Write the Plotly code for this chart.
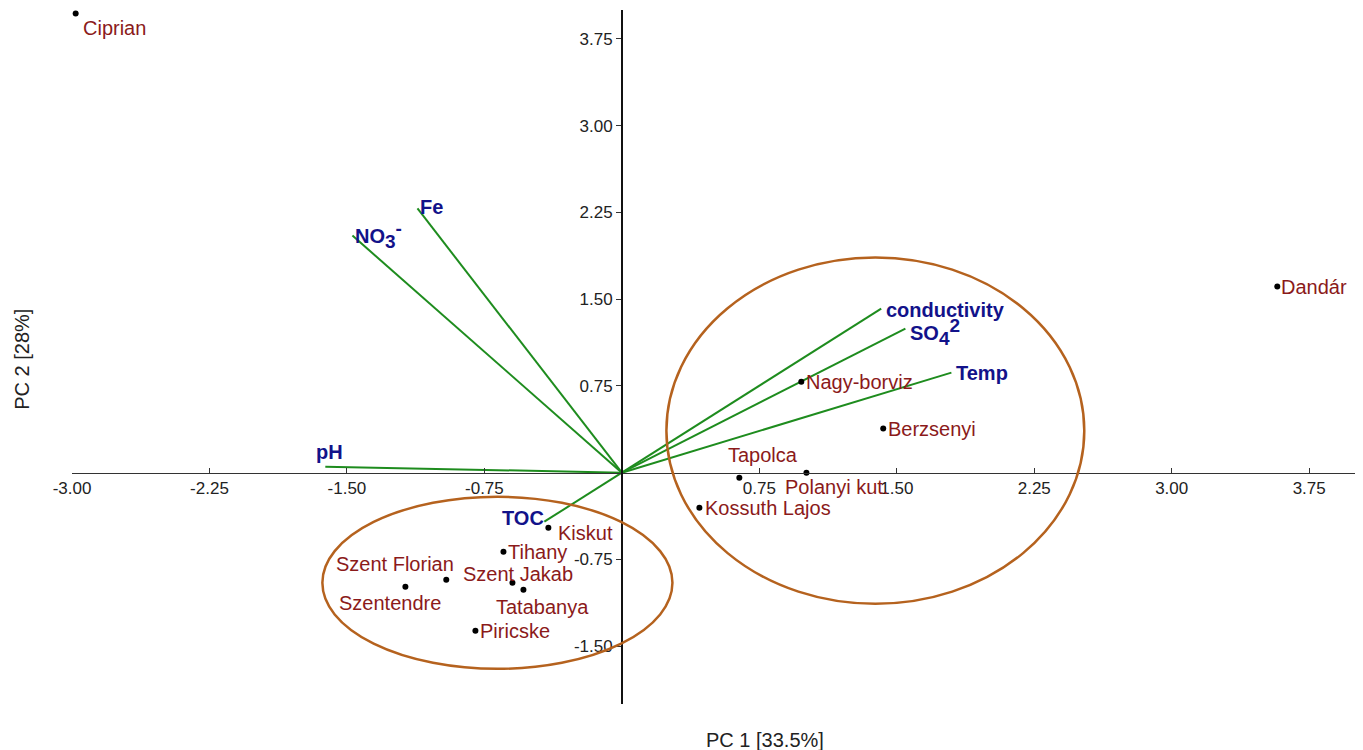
import plotly.graph_objects as go

# ---- data ----
sites = ["Ciprian", "Dandár", "Nagy-borviz", "Berzsenyi", "Tapolca", "Polanyi kut.",
         "Kossuth Lajos", "Kiskut", "Tihany", "Szent Jakab", "Tatabanya",
         "Szent Florian", "Szentendre", "Piricske"]
site_pc1 = [-2.98, 3.576, 0.979, 1.426, 0.641, 1.007, 0.423, -0.401, -0.646, -0.597, -0.537, -0.958, -1.181, -0.799]
site_pc2 = [3.97, 1.609, 0.787, 0.381, -0.043, 0.0, -0.303, -0.476, -0.683, -0.952, -1.012, -0.926, -0.986, -1.367]

SUB = '<sub><span style="font-size:19px">%s</span></sub>'
SUP = '<sup><span style="font-size:19px">%s</span></sup>'
variables = ["Fe", "NO" + SUB % "3" + SUP % "-", "pH", "TOC", "conductivity",
             "SO" + SUB % "4" + SUP % "2", "Temp"]
load_pc1 = [-1.115, -1.470, -1.618, -0.423, 1.415, 1.547, 1.798]
load_pc2 = [2.284, 2.050, 0.052, -0.424, 1.419, 1.246, 0.865]

x_ticks = [-3.00, -2.25, -1.50, -0.75, 0.75, 1.50, 2.25, 3.00, 3.75]
y_ticks = [-1.50, -0.75, 0.75, 1.50, 2.25, 3.00, 3.75]

# group ellipses: center x, center y, radius x, radius y
ellipse_right = (1.383, 0.363, 1.140, 1.497)
ellipse_left = (-0.679, -0.952, 0.955, 0.744)

# ---- styles ----
X_RANGE = [-3.0, 4.0]
Y_RANGE = [-2.0, 4.0]
SITE_COLOR = "#8B1A1A"
VAR_COLOR = "#12128A"
LINE_COLOR = "#1E8C1E"
ELLIPSE_COLOR = "#B5621E"
FONT = "Liberation Sans, Arial, sans-serif"

# label placement (xanchor, yanchor, xshift, yshift)
site_label_style = [
    ("left", "middle", 5, -15),
    ("left", "middle", 2, 0),
    ("left", "middle", 3, 0),
    ("left", "middle", 3, 0),
    ("center", "middle", 24, 23),
    ("center", "middle", 30, -14),
    ("left", "middle", 4, 0),
    ("left", "middle", 8, -5),
    ("left", "middle", 3, 0),
    ("center", "middle", 6, 9),
    ("center", "middle", 19, -17),
    ("center", "middle", -51, 16),
    ("center", "middle", -15, -16),
    ("left", "middle", 3, 0),
]
var_label_style = [
    ("left", "middle", 1, 1),
    ("left", "middle", 1, 1),
    ("center", "middle", 4, 15),
    ("right", "middle", 2, 4),
    ("left", "middle", 3, -1),
    ("left", "middle", 3, -3),
    ("left", "middle", 3, 0),
]

fig = go.Figure()

# loading vectors
for vx, vy in zip(load_pc1, load_pc2):
    fig.add_trace(go.Scatter(x=[0, vx], y=[0, vy], mode="lines",
                             line=dict(color=LINE_COLOR, width=2),
                             hoverinfo="skip", showlegend=False))

# site points
fig.add_trace(go.Scatter(x=site_pc1, y=site_pc2, mode="markers",
                         marker=dict(color="black", size=6),
                         text=sites, cliponaxis=False, showlegend=False))

annotations = []
for name, sx, sy, (xa, ya, xs, ys) in zip(sites, site_pc1, site_pc2, site_label_style):
    annotations.append(dict(x=sx, y=sy, xref="x", yref="y", text=name, showarrow=False,
                            xanchor=xa, yanchor=ya, xshift=xs, yshift=ys,
                            font=dict(family=FONT, size=20, color=SITE_COLOR)))
for name, vx, vy, (xa, ya, xs, ys) in zip(variables, load_pc1, load_pc2, var_label_style):
    annotations.append(dict(x=vx, y=vy, xref="x", yref="y", text="<b>" + name + "</b>",
                            showarrow=False, xanchor=xa, yanchor=ya, xshift=xs, yshift=ys,
                            font=dict(family=FONT, size=20, color=VAR_COLOR)))

# axis titles
annotations.append(dict(x=0.540, y=0, xref="paper", yref="paper", text="PC 1 [33.5%]",
                        showarrow=False, xanchor="center", yanchor="top", yshift=-23,
                        font=dict(family=FONT, size=20, color="#222222")))
annotations.append(dict(x=0, y=0.496, xref="paper", yref="paper", text="PC 2 [28%]",
                        showarrow=False, xanchor="center", yanchor="middle", xshift=-50,
                        textangle=-90, font=dict(family=FONT, size=20, color="#222222")))

shapes = []
for cx, cy, rx, ry in (ellipse_right, ellipse_left):
    shapes.append(dict(type="circle", xref="x", yref="y",
                       x0=cx - rx, x1=cx + rx, y0=cy - ry, y1=cy + ry,
                       line=dict(color=ELLIPSE_COLOR, width=2.5)))

x_zero_frac = (0 - X_RANGE[0]) / (X_RANGE[1] - X_RANGE[0])
y_zero_frac = (0 - Y_RANGE[0]) / (Y_RANGE[1] - Y_RANGE[0])

fig.update_layout(
    width=1363, height=750,
    margin=dict(l=72, r=8, t=10, b=46),
    plot_bgcolor="white", paper_bgcolor="white",
    showlegend=False,
    annotations=annotations,
    shapes=shapes,
    xaxis=dict(range=X_RANGE, anchor="free", position=y_zero_frac,
               showline=True, linecolor="#333333", linewidth=1,
               showgrid=False, zeroline=False,
               ticks="inside", ticklen=5, tickcolor="#333333",
               tickvals=x_ticks, ticktext=["%.2f" % v for v in x_ticks],
               tickfont=dict(family=FONT, size=17, color="#222222")),
    yaxis=dict(range=Y_RANGE, anchor="free", position=x_zero_frac,
               showline=True, linecolor="#111111", linewidth=1.5,
               showgrid=False, zeroline=False,
               ticks="outside", ticklen=5, tickcolor="#333333",
               tickvals=y_ticks, ticktext=["%.2f" % v for v in y_ticks],
               tickfont=dict(family=FONT, size=17, color="#222222")),
)

fig.write_html("out.html")
